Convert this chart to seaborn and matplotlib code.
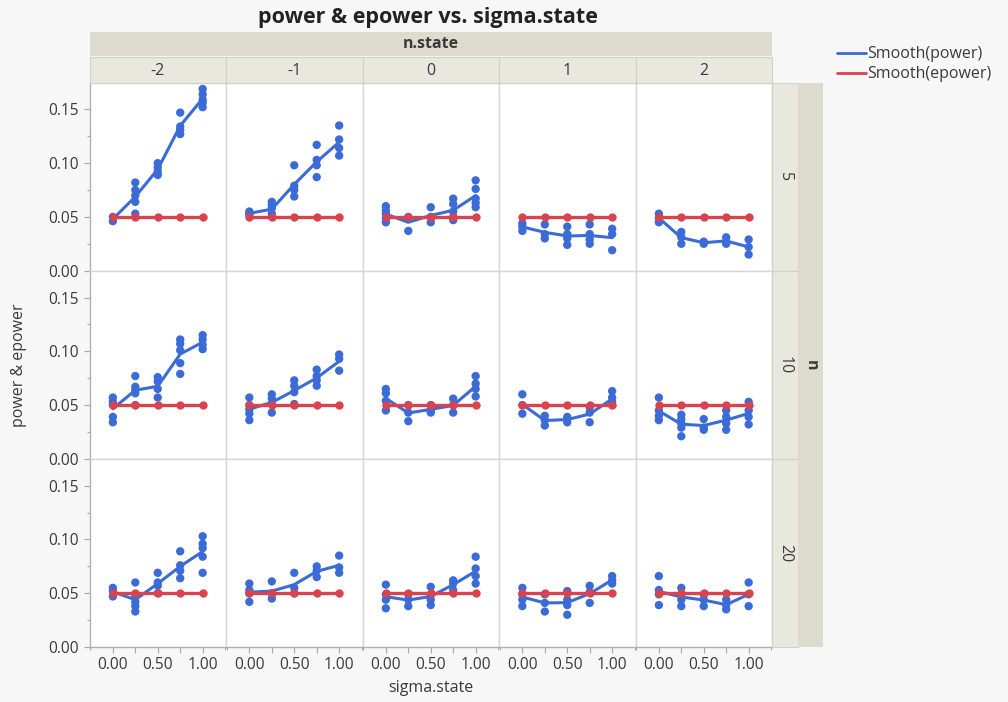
import pandas as pd
import numpy as np

import matplotlib
matplotlib.use("Agg")

import matplotlib.pyplot as plt
import seaborn as sns
from matplotlib.lines import Line2D

SIGMA = [0.0, 0.25, 0.5, 0.75, 1.0]
N_VALUES = [5, 10, 20]
N_STATES = [-2, -1, 0, 1, 2]
EPOWER = [0.05, 0.05, 0.05, 0.05, 0.05]

# power readings per panel, one list per sigma.state value
power_n5_m2 = [[0.050, 0.046], [0.082, 0.075, 0.070, 0.064, 0.053],
               [0.100, 0.096, 0.092, 0.089], [0.147, 0.134, 0.131, 0.127],
               [0.169, 0.164, 0.159, 0.156, 0.152]]
power_n5_m1 = [[0.055, 0.053, 0.052], [0.064, 0.061, 0.058, 0.053, 0.050],
               [0.098, 0.079, 0.075, 0.069], [0.117, 0.103, 0.098, 0.087],
               [0.135, 0.122, 0.114, 0.107]]
power_n5_0 = [[0.060, 0.056, 0.053, 0.049, 0.045], [0.050, 0.048, 0.037],
              [0.059, 0.050, 0.045], [0.067, 0.062, 0.055, 0.050, 0.047],
              [0.084, 0.076, 0.067, 0.063, 0.059]]
power_n5_p1 = [[0.044, 0.041, 0.037], [0.043, 0.034, 0.030],
               [0.041, 0.034, 0.030, 0.024], [0.043, 0.034, 0.029, 0.025],
               [0.039, 0.034, 0.019]]
power_n5_p2 = [[0.053, 0.049, 0.045], [0.036, 0.031, 0.025],
               [0.027, 0.025], [0.031, 0.027, 0.025],
               [0.029, 0.022, 0.015]]

power_n10_m2 = [[0.057, 0.053, 0.050, 0.039, 0.034], [0.077, 0.067, 0.064, 0.061, 0.050],
                [0.076, 0.072, 0.065, 0.057], [0.111, 0.107, 0.101, 0.089, 0.079],
                [0.115, 0.111, 0.106, 0.102]]
power_n10_m1 = [[0.057, 0.050, 0.046, 0.042, 0.036], [0.060, 0.056, 0.051, 0.043],
                [0.073, 0.068, 0.062, 0.051], [0.083, 0.077, 0.073, 0.068],
                [0.097, 0.093, 0.082]]
power_n10_0 = [[0.065, 0.061, 0.054, 0.045], [0.050, 0.043, 0.035],
               [0.050, 0.045, 0.043], [0.056, 0.050, 0.043],
               [0.077, 0.070, 0.065, 0.058]]
power_n10_p1 = [[0.060, 0.050, 0.042], [0.040, 0.036, 0.031],
                [0.039, 0.034], [0.048, 0.043, 0.034],
                [0.063, 0.057, 0.053, 0.050]]
power_n10_p2 = [[0.057, 0.045, 0.040, 0.036], [0.041, 0.037, 0.033, 0.029, 0.021],
                [0.037, 0.029, 0.027], [0.045, 0.039, 0.033, 0.027],
                [0.053, 0.045, 0.039, 0.032]]

power_n20_m2 = [[0.055, 0.052, 0.047], [0.060, 0.047, 0.042, 0.038, 0.033],
                [0.069, 0.060, 0.057, 0.050], [0.089, 0.076, 0.071, 0.064],
                [0.103, 0.096, 0.092, 0.084, 0.069]]
power_n20_m1 = [[0.059, 0.053, 0.050, 0.042], [0.061, 0.050, 0.045],
                [0.069, 0.055, 0.050], [0.075, 0.071, 0.065],
                [0.085, 0.074, 0.069]]
power_n20_0 = [[0.058, 0.049, 0.044, 0.036], [0.049, 0.044, 0.038],
               [0.056, 0.049, 0.044, 0.039], [0.062, 0.059, 0.053],
               [0.084, 0.073, 0.066, 0.059]]
power_n20_p1 = [[0.055, 0.049, 0.044, 0.038], [0.049, 0.041, 0.033],
                [0.052, 0.044, 0.039, 0.030], [0.057, 0.051, 0.041],
                [0.066, 0.062, 0.059]]
power_n20_p2 = [[0.066, 0.053, 0.049, 0.039], [0.055, 0.049, 0.044, 0.038],
                [0.049, 0.044, 0.038], [0.044, 0.039, 0.035],
                [0.060, 0.049, 0.038]]

panels = {
    (5, -2): power_n5_m2, (5, -1): power_n5_m1, (5, 0): power_n5_0,
    (5, 1): power_n5_p1, (5, 2): power_n5_p2,
    (10, -2): power_n10_m2, (10, -1): power_n10_m1, (10, 0): power_n10_0,
    (10, 1): power_n10_p1, (10, 2): power_n10_p2,
    (20, -2): power_n20_m2, (20, -1): power_n20_m1, (20, 0): power_n20_0,
    (20, 1): power_n20_p1, (20, 2): power_n20_p2,
}

BLUE = "#3b6bd6"
RED = "#d8434f"
STRIP_DARK = "#dcdbce"
STRIP_LIGHT = "#e9e8df"
TEXT = "#3a3a3a"
W, H = 1008, 702

rows = []
for (n, ns), vals in panels.items():
    for s, ys in zip(SIGMA, vals):
        for y in ys:
            rows.append({"n": n, "n_state": ns, "sigma": s, "series": "power", "value": y})
    for s, e in zip(SIGMA, EPOWER):
        rows.append({"n": n, "n_state": ns, "sigma": s, "series": "epower", "value": e})
df = pd.DataFrame(rows)

sns.set_theme(style="white")
plt.rcParams["font.family"] = ["Open Sans", "DejaVu Sans"]


def draw_panel(data, **kws):
    ax = plt.gca()
    pw = data[data["series"] == "power"]
    ep = data[data["series"] == "epower"]
    sns.lineplot(data=pw, x="sigma", y="value", estimator="mean", errorbar=None,
                 color=BLUE, lw=2.2, ax=ax)
    sns.scatterplot(data=pw, x="sigma", y="value", color=BLUE, s=36,
                    edgecolor="none", ax=ax, zorder=3)
    sns.lineplot(data=ep, x="sigma", y="value", errorbar=None, color=RED, lw=2.4,
                 marker="o", markersize=6, markeredgewidth=0, ax=ax, zorder=4)


g = sns.FacetGrid(df, row="n", col="n_state", row_order=N_VALUES, col_order=N_STATES,
                  sharex=True, sharey=True, height=1.88, aspect=0.73, despine=False)
g.map_dataframe(draw_panel)
g.set_titles(template="", row_template="", col_template="")
g.set_axis_labels("", "")

fig = g.figure
fig.set_size_inches(W / 100, H / 100)
fig.set_facecolor("#f7f7f7")
left, right = 89.5 / W, 772 / W
top, bottom = 1 - 82.5 / H, 1 - 647 / H
fig.subplots_adjust(left=left, right=right, top=top, bottom=bottom, wspace=0, hspace=0)

for i, axrow in enumerate(g.axes):
    for j, ax in enumerate(axrow):
        ax.set_facecolor("white")
        ax.set_xlim(-0.26, 1.26)
        ax.set_ylim(0, 0.175)
        ax.set_xticks([0, 0.25, 0.5, 0.75, 1.0])
        ax.set_xticks([-0.25, 1.25], minor=True)
        ax.set_xticklabels(["0.00", "", "0.50", "", "1.00"])
        ax.set_yticks([0, 0.05, 0.10, 0.15])
        ax.set_yticks([0.025, 0.075, 0.125], minor=True)
        ax.set_yticklabels(["0.00", "0.05", "0.10", "0.15"])
        ax.tick_params(which="both", direction="out", color="#a8a8a8",
                       labelcolor=TEXT, labelsize=11.2, width=0.8)
        ax.tick_params(which="major", length=4)
        ax.tick_params(which="minor", length=2.5)
        ax.tick_params(left=(j == 0), bottom=(i == 2), which="both")
        ax.tick_params(labelleft=(j == 0), labelbottom=(i == 2))
        for sp in ax.spines.values():
            sp.set_color("#d6d6d6")
            sp.set_linewidth(1.0)
        if j == 0:
            ax.spines["left"].set_color("#b0b0b0")
        if i == 2:
            ax.spines["bottom"].set_color("#b0b0b0")
        ax.set_xlabel("")
        ax.set_ylabel("")

# strips on top
col_w = (right - left) / len(N_STATES)
sax = fig.add_axes([left, 1 - 56 / H, right - left, 24 / H])
sax.set_facecolor(STRIP_DARK)
sax.set_xticks([]); sax.set_yticks([])
for sp in sax.spines.values():
    sp.set_visible(False)
sax.text(0.5, 0.5, "n.state", ha="center", va="center", fontsize=11.5,
         fontweight="bold", color=TEXT, transform=sax.transAxes)
for j, ns in enumerate(N_STATES):
    cax = fig.add_axes([left + j * col_w, top, col_w, 26 / H])
    cax.set_facecolor(STRIP_LIGHT)
    cax.set_xticks([]); cax.set_yticks([])
    for sp in cax.spines.values():
        sp.set_color("#d2d1c6")
        sp.set_linewidth(0.8)
    cax.text(0.5, 0.45, str(ns), ha="center", va="center", fontsize=11.5,
             color=TEXT, transform=cax.transAxes)

# strips on the right
row_h = (top - bottom) / len(N_VALUES)
for i, n in enumerate(N_VALUES):
    rax = fig.add_axes([right, top - (i + 1) * row_h, 26 / W, row_h])
    rax.set_facecolor(STRIP_LIGHT)
    rax.set_xticks([]); rax.set_yticks([])
    for sp in rax.spines.values():
        sp.set_color("#d2d1c6")
        sp.set_linewidth(0.8)
    rax.text(0.5, 0.5, str(n), ha="center", va="center", fontsize=11.5,
             rotation=-90, color=TEXT, transform=rax.transAxes)
oax = fig.add_axes([right + 26 / W, bottom, 25 / W, top - bottom])
oax.set_facecolor(STRIP_DARK)
oax.set_xticks([]); oax.set_yticks([])
for sp in oax.spines.values():
    sp.set_visible(False)
oax.text(0.5, 0.5, "n", ha="center", va="center", fontsize=11.5, fontweight="bold",
         rotation=-90, color=TEXT, transform=oax.transAxes)

fig.text((left + right) / 2 - 3 / W, 1 - 18 / H, "power & epower vs. sigma.state",
         ha="center", va="center", fontsize=15.5, fontweight="bold", color="#222222")
fig.text((left + right) / 2, 1 - 688 / H, "sigma.state", ha="center", va="center",
         fontsize=11.5, color=TEXT)
fig.text(19 / W, (top + bottom) / 2, "power & epower", ha="center", va="center",
         rotation=90, fontsize=11.5, color=TEXT)

handles = [Line2D([], [], color=BLUE, lw=2), Line2D([], [], color=RED, lw=2)]
fig.legend(handles, ["Smooth(power)", "Smooth(epower)"], loc="upper left",
           bbox_to_anchor=(823 / W, 1 - 32 / H), frameon=False, fontsize=11.5,
           handlelength=1.8, handletextpad=0.05, labelspacing=0.25,
           labelcolor=TEXT)

fig.savefig("out.png", dpi=100, facecolor=fig.get_facecolor())
plt.close()
